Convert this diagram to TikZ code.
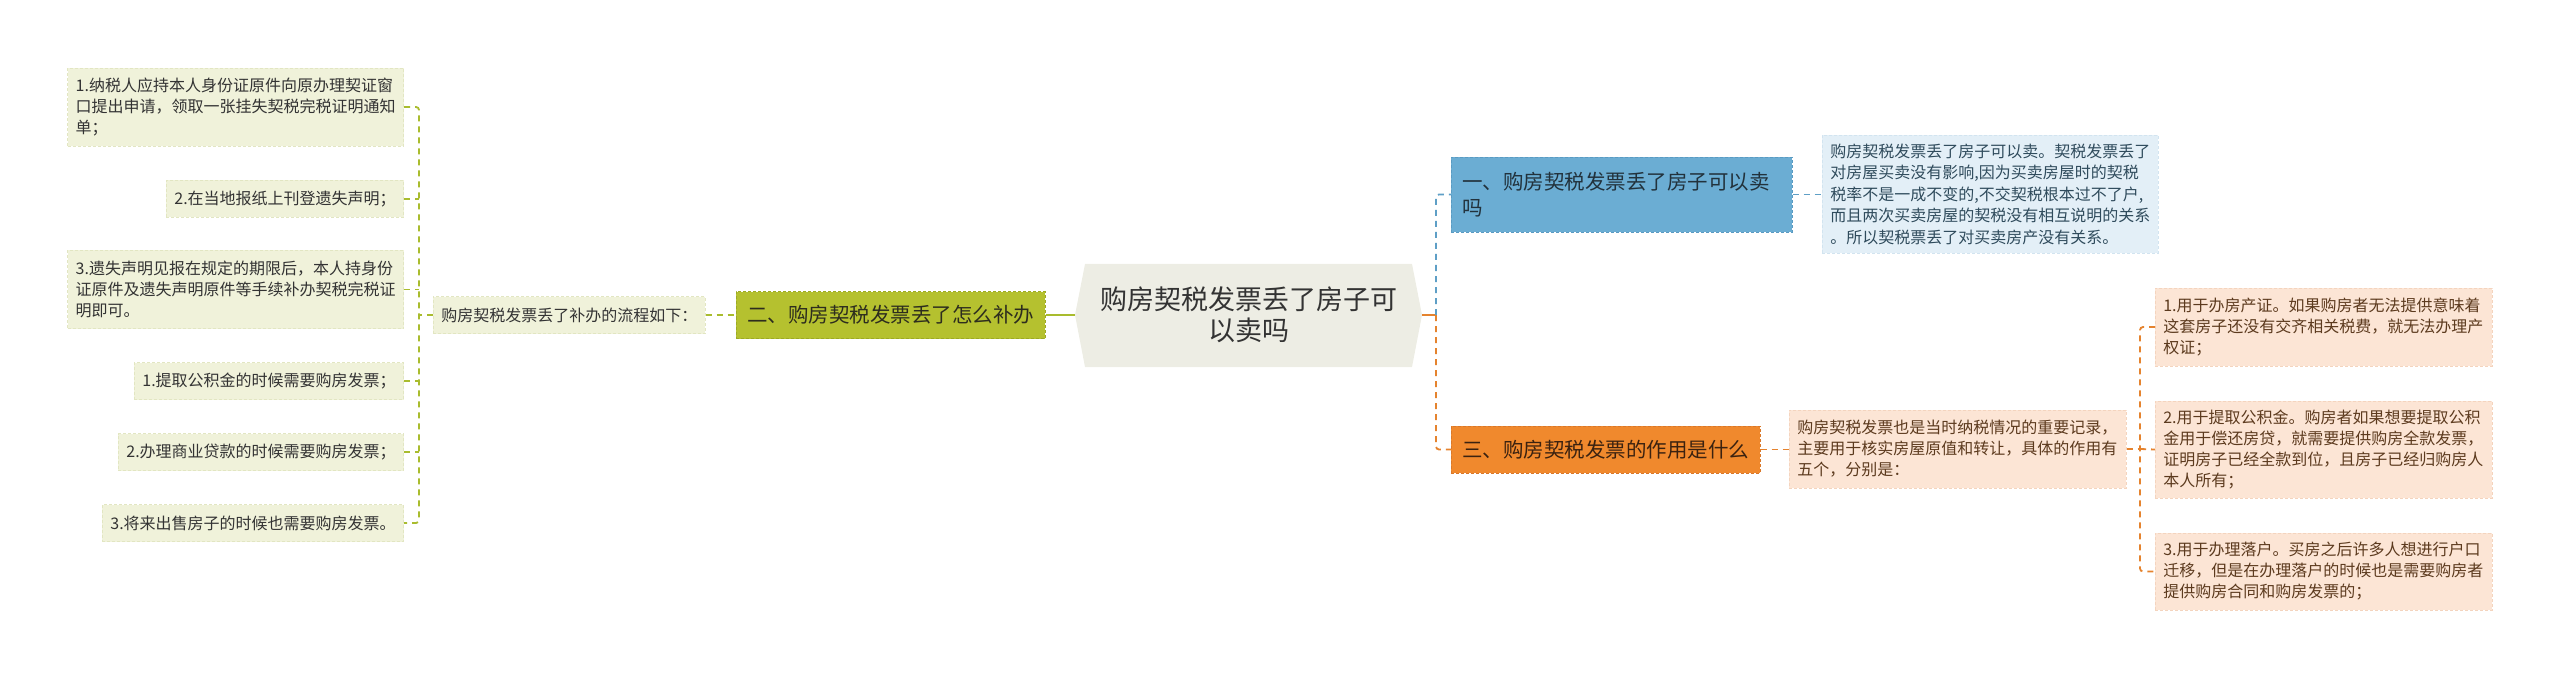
\documentclass[tikz,border=0pt]{standalone}
\usepackage{fontspec}
\newfontfamily\cjk{Noto Sans CJK SC}
\definecolor{cRoot}{HTML}{EDEDE4}
\definecolor{cRootTxt}{HTML}{333333}
\definecolor{cG}{HTML}{B5C12F}
\definecolor{cGb}{HTML}{9DAA25}
\definecolor{cGline}{HTML}{A9BC2E}
\definecolor{cGlight}{HTML}{F0F2DA}
\definecolor{cGlightb}{HTML}{E2E6C2}
\definecolor{cGtxt}{HTML}{2D2D1E}
\definecolor{cB}{HTML}{6BADD3}
\definecolor{cBb}{HTML}{5A9BC2}
\definecolor{cBline}{HTML}{5E9FC6}
\definecolor{cBlight}{HTML}{E3EFF7}
\definecolor{cBlightb}{HTML}{D2E4F0}
\definecolor{cBtxt}{HTML}{22323C}
\definecolor{cBdtxt}{HTML}{2F4B5C}
\definecolor{cO}{HTML}{F0892D}
\definecolor{cOb}{HTML}{D9782A}
\definecolor{cOline}{HTML}{E5832E}
\definecolor{cOlight}{HTML}{FCE5D5}
\definecolor{cOlightb}{HTML}{F4D4BE}
\definecolor{cOtxt}{HTML}{3B2210}
\definecolor{cOdtxt}{HTML}{5C3A1E}
\begin{document}
\begin{tikzpicture}[x=1pt,y=-1pt,
  base/.style={rectangle, inner xsep=8pt, inner ysep=0pt, align=left,
    font=\cjk\fontsize{16}{21}\selectfont, dash pattern=on 3pt off 2pt, line width=0.6pt},
  leafG/.style={base, fill=cGlight, draw=cGlightb, text=cRootTxt, minimum height=37pt},
  leafB/.style={base, fill=cBlight, draw=cBlightb, text=cBdtxt, text width=320pt, font=\cjk\fontsize{16}{21.5}\selectfont},
  leafO/.style={base, fill=cOlight, draw=cOlightb, text=cOdtxt, text width=321pt},
  mainbox/.style={base, inner xsep=11pt, font=\cjk\fontsize{20.5}{26}\selectfont, minimum height=47pt},
  gdash/.style={draw=cGline, line width=1.8pt, dash pattern=on 6pt off 5pt},
  bdash/.style={draw=cBline, line width=1.8pt, dash pattern=on 6pt off 5pt},
  odash/.style={draw=cOline, line width=1.8pt, dash pattern=on 6pt off 5pt},
  gsolid/.style={draw=cGline, line width=2.2pt},
  osolid/.style={draw=cOline, line width=2.2pt}
]
\useasboundingbox (0,0) rectangle (2560,679);

% root
\fill[cRoot] (1075,315) -- (1085,264) -- (1412,264) -- (1422,315) -- (1412,367) -- (1085,367) -- cycle;
\node[align=center, text=cRootTxt, font=\cjk\fontsize{27}{31}\selectfont] (root) at (1248.5,315) {购房契税发票丢了房子可\\以卖吗};
\coordinate (rootL) at (1075,315);
\coordinate (rootR) at (1422,315);

% level 1
\node[mainbox, fill=cG, draw=cGb, text=cGtxt, anchor=west] (two) at (736,315) {二、购房契税发票丢了怎么补办};
\node[mainbox, fill=cB, draw=cBb, text=cBtxt, anchor=west, text width=319pt, minimum height=75pt] (one) at (1451,194.5) {一、购房契税发票丢了房子可以卖\\吗};
\node[mainbox, fill=cO, draw=cOb, text=cOtxt, anchor=west] (three) at (1451,449.5) {三、购房契税发票的作用是什么};

% left side
\node[leafG, anchor=west] (flow) at (433,315) {购房契税发票丢了补办的流程如下：};
\node[leafG, anchor=east, text width=320pt, minimum height=78pt] (b1) at (404,107) {1.纳税人应持本人身份证原件向原办理契证窗\\口提出申请，领取一张挂失契税完税证明通知\\单；};
\node[leafG, anchor=east] (b2) at (404,199) {2.在当地报纸上刊登遗失声明；};
\node[leafG, anchor=east, text width=320pt, minimum height=78pt] (b3) at (404,289.5) {3.遗失声明见报在规定的期限后，本人持身份\\证原件及遗失声明原件等手续补办契税完税证\\明即可。};
\node[leafG, anchor=east] (b4) at (404,381) {1.提取公积金的时候需要购房发票；};
\node[leafG, anchor=east] (b5) at (404,452) {2.办理商业贷款的时候需要购房发票；};
\node[leafG, anchor=east] (b6) at (404,523) {3.将来出售房子的时候也需要购房发票。};

% right side
\node[leafB, anchor=west, minimum height=118pt] (bdesc) at (1822,194) {购房契税发票丢了房子可以卖。契税发票丢了\\对房屋买卖没有影响,因为买卖房屋时的契税\\税率不是一成不变的,不交契税根本过不了户,\\而且两次买卖房屋的契税没有相互说明的关系\\。所以契税票丢了对买卖房产没有关系。};
\node[leafO, anchor=west, minimum height=78pt] (odesc) at (1789,449) {购房契税发票也是当时纳税情况的重要记录，\\主要用于核实房屋原值和转让，具体的作用有\\五个，分别是：};
\node[leafO, anchor=west, minimum height=78pt] (r1) at (2155,327) {1.用于办房产证。如果购房者无法提供意味着\\这套房子还没有交齐相关税费，就无法办理产\\权证；};
\node[leafO, anchor=west, minimum height=97pt] (r2) at (2155,449.5) {2.用于提取公积金。购房者如果想要提取公积\\金用于偿还房贷，就需要提供购房全款发票，\\证明房子已经全款到位，且房子已经归购房人\\本人所有；};
\node[leafO, anchor=west, minimum height=77pt] (r3) at (2155,571.5) {3.用于办理落户。买房之后许多人想进行户口\\迁移，但是在办理落户的时候也是需要购房者\\提供购房合同和购房发票的；};

% junctions
\coordinate (jl) at (419,315);
\coordinate (jr) at (1436,315);
\coordinate (jo) at (2140,449);

% left connectors
\draw[gsolid] (two.east) -- (rootL);
\draw[gdash] (flow.east) -- (two.west);
\draw[gdash] (flow.west) -- (jl);
\draw[gdash, rounded corners=3pt] (b1.east) -- (b1.east -| jl) -- (b6.east -| jl) -- (b6.east);
\draw[gdash] (b2.east) -- (b2.east -| jl);
\draw[gdash] (b3.east) -- (b3.east -| jl);
\draw[gdash] (b4.east) -- (b4.east -| jl);
\draw[gdash] (b5.east) -- (b5.east -| jl);

% right connectors
\draw[osolid] (rootR) -- (jr);
\draw[bdash, rounded corners=3pt] (jr) |- (one.west);
\draw[odash, rounded corners=3pt] (jr) |- (three.west);
\draw[bdash] (one.east) -- (one.east -| bdesc.west);
\draw[odash] (three.east) -- (three.east -| odesc.west);
\draw[odash] (odesc.east) -- (jo);
\draw[odash, rounded corners=3pt] (r1.west) -- (r1.west -| jo) -- (r3.west -| jo) -- (r3.west);
\draw[odash] (jo) -- (r2.west);
\end{tikzpicture}
\end{document}
